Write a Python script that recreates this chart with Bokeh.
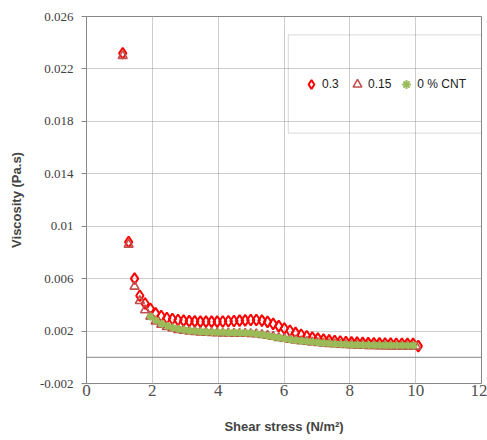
from bokeh.plotting import figure
from bokeh.models import Span, BoxAnnotation, Legend, LegendItem, FixedTicker
from bokeh.embed import file_html
from bokeh.resources import INLINE

# ---- data ----
x_03 = [1.10, 1.28, 1.46, 1.62, 1.78, 1.94, 2.10, 2.27, 2.44, 2.61, 2.78, 2.95,
        3.12, 3.29, 3.46, 3.63, 3.80, 3.97, 4.14, 4.31, 4.48, 4.65, 4.82, 4.99,
        5.16, 5.33, 5.50, 5.67, 5.84, 6.01, 6.18, 6.35, 6.52, 6.69, 6.86, 7.03,
        7.20, 7.37, 7.54, 7.71, 7.88, 8.05, 8.22, 8.39, 8.56, 8.73, 8.90, 9.07,
        9.24, 9.41, 9.58, 9.75, 9.92, 10.08]
y_03 = [0.0232, 0.0088, 0.0060, 0.0047, 0.0041, 0.0037, 0.00335, 0.00315, 0.0030, 0.00292, 0.00285, 0.0028,
        0.00276, 0.00274, 0.00272, 0.00272, 0.00272, 0.00272, 0.00273, 0.00275, 0.00277, 0.0028, 0.00282, 0.00284,
        0.00284, 0.0028, 0.0027, 0.00255, 0.00238, 0.0022, 0.00202, 0.00186, 0.00172, 0.0016, 0.0015, 0.00142,
        0.00135, 0.00129, 0.00124, 0.0012, 0.00117, 0.00114, 0.00112, 0.0011, 0.00108, 0.00107, 0.00106, 0.00105,
        0.00104, 0.00103, 0.00103, 0.00102, 0.00102, 0.00085]

x_015 = [1.10, 1.28, 1.46, 1.62, 1.78, 1.94, 2.10, 2.27, 2.44, 2.61, 2.78, 2.95,
         3.12, 3.29, 3.46, 3.63, 3.80, 3.97, 4.14, 4.31, 4.48, 4.65, 4.82, 4.99,
         5.16, 5.33, 5.50, 5.67, 5.84, 6.01, 6.18, 6.35, 6.52, 6.69, 6.86, 7.03,
         7.20, 7.37, 7.54, 7.71, 7.88, 8.05, 8.22, 8.39, 8.56, 8.73, 8.90, 9.07,
         9.24, 9.41, 9.58, 9.75, 9.90, 10.02]
y_015 = [0.0230, 0.0086, 0.0054, 0.0043, 0.0036, 0.0031, 0.00275, 0.0025, 0.00232, 0.0022, 0.0021, 0.00203,
         0.00198, 0.00194, 0.0019, 0.00188, 0.00186, 0.00184, 0.00183, 0.00182, 0.00181, 0.0018, 0.0018, 0.00179,
         0.00177, 0.00172, 0.00165, 0.00157, 0.00149, 0.00142, 0.00135, 0.00129, 0.00124, 0.00119, 0.00114, 0.0011,
         0.00106, 0.00103, 0.0010, 0.00097, 0.00095, 0.00093, 0.00091, 0.00089, 0.00088, 0.00087, 0.00086, 0.00085,
         0.00084, 0.00083, 0.00083, 0.00082, 0.00082, 0.00082]

x_0 = [1.95, 2.12, 2.29, 2.46, 2.63, 2.80, 2.97, 3.14, 3.31, 3.48, 3.65, 3.82,
       3.99, 4.16, 4.33, 4.50, 4.67, 4.84, 5.01, 5.18, 5.35, 5.52, 5.69, 5.86,
       6.03, 6.20, 6.37, 6.54, 6.71, 6.88, 7.05, 7.22, 7.39, 7.56, 7.73, 7.90,
       8.07, 8.24, 8.41, 8.58, 8.75, 8.92, 9.09, 9.26, 9.43, 9.60, 9.77, 9.94]
y_0 = [0.0031, 0.0028, 0.00255, 0.00238, 0.00225, 0.00215, 0.00208, 0.00203, 0.00199, 0.00196, 0.00193, 0.00191,
       0.0019, 0.00189, 0.00188, 0.00188, 0.00187, 0.00186, 0.00183, 0.00178, 0.00171, 0.00163, 0.00155, 0.00148,
       0.00141, 0.00135, 0.0013, 0.00125, 0.0012, 0.00116, 0.00112, 0.00108, 0.00105, 0.00102, 0.0010, 0.00098,
       0.00096, 0.00095, 0.00094, 0.00093, 0.00092, 0.00092, 0.00091, 0.00091, 0.0009, 0.0009, 0.0009, 0.0009]

series_labels = ["0.3", "0.15", "0 % CNT"]
x_ticks = [0, 2, 4, 6, 8, 10, 12]
y_ticks = [-0.002, 0.002, 0.006, 0.010, 0.014, 0.018, 0.022, 0.026]
y_tick_labels = {-0.002: "-0.002", 0.002: "0.002", 0.006: "0.006", 0.010: "0.01",
                 0.014: "0.014", 0.018: "0.018", 0.022: "0.022", 0.026: "0.026"}

GRAY = "#868686"
NARROW = "Liberation Sans Narrow"

p = figure(width=487, height=440, output_backend="svg", toolbar_location=None,
           x_range=(0, 12), y_range=(-0.002, 0.026),
           min_border_left=86, min_border_right=6, min_border_top=16, min_border_bottom=57)
p.outline_line_color = GRAY
p.outline_line_width = 1

# grid
p.xgrid.ticker = FixedTicker(ticks=x_ticks)
p.ygrid.ticker = FixedTicker(ticks=y_ticks)
for g in (p.xgrid, p.ygrid):
    g.grid_line_color = "#999999"
    g.grid_line_dash = "1 1"
    g.grid_line_width = 1

# axes
p.xaxis.ticker = FixedTicker(ticks=x_ticks)
p.xaxis.axis_line_color = None
p.xaxis.major_tick_line_color = None
p.xaxis.minor_tick_line_color = None
p.xaxis.major_tick_out = 0
p.xaxis.major_tick_in = 0
p.xaxis.major_label_standoff = 1
p.xaxis.major_label_text_font = NARROW
p.xaxis.major_label_text_font_size = "17px"
p.xaxis.major_label_text_color = "#505050"
p.xaxis.axis_label = "Shear stress (N/m\u00b2)"
p.xaxis.axis_label_text_font = "Liberation Sans"
p.xaxis.axis_label_text_font_style = "bold"
p.xaxis.axis_label_text_font_size = "13px"
p.xaxis.axis_label_standoff = 20

p.yaxis.ticker = FixedTicker(ticks=y_ticks)
p.yaxis.major_label_overrides = y_tick_labels
p.yaxis.axis_line_color = GRAY
p.yaxis.major_tick_line_color = GRAY
p.yaxis.major_tick_in = 0
p.yaxis.major_tick_out = 5
p.yaxis.minor_tick_line_color = None
p.yaxis.major_label_standoff = 8
p.yaxis.major_label_text_font = NARROW
p.yaxis.major_label_text_font_size = "13px"
p.yaxis.major_label_text_color = "#404040"
p.yaxis.axis_label = "Viscosity (Pa.s)"
p.yaxis.axis_label_text_font = "Liberation Sans"
p.yaxis.axis_label_text_font_style = "bold"
p.yaxis.axis_label_text_font_size = "13px"
p.yaxis.axis_label_standoff = 13

# zero line
p.add_layout(Span(location=0, dimension="width", line_color=GRAY, line_width=1))

# series
r1 = p.scatter(x_03, y_03, marker="diamond", size=11, fill_color=None,
               line_color="#FF0000", line_width=2)
r2 = p.scatter(x_015, y_015, marker="triangle", size=9, fill_color=None,
               line_color="#C0504D", line_width=1.6)
r3 = p.scatter(x_0, y_0, marker="asterisk", size=8, line_color="#9BBB59", line_width=2)

# legend frame
p.add_layout(BoxAnnotation(left=6.13, right=12.0, top=0.0246, bottom=0.0171,
                           fill_alpha=0, line_color=GRAY, line_width=1))

legend = Legend(items=[LegendItem(label=series_labels[0], renderers=[r1]),
                       LegendItem(label=series_labels[1], renderers=[r2]),
                       LegendItem(label=series_labels[2], renderers=[r3])],
                orientation="horizontal", location=(214, 288),
                padding=0, margin=0, spacing=4, glyph_width=22, glyph_height=22,
                label_standoff=0, label_text_font="Liberation Sans",
                label_text_font_size="12px", label_text_color="#202020",
                label_height=22, border_line_alpha=0, background_fill_alpha=0)
p.add_layout(legend)

open("out.html", "w").write(file_html(p, INLINE))
